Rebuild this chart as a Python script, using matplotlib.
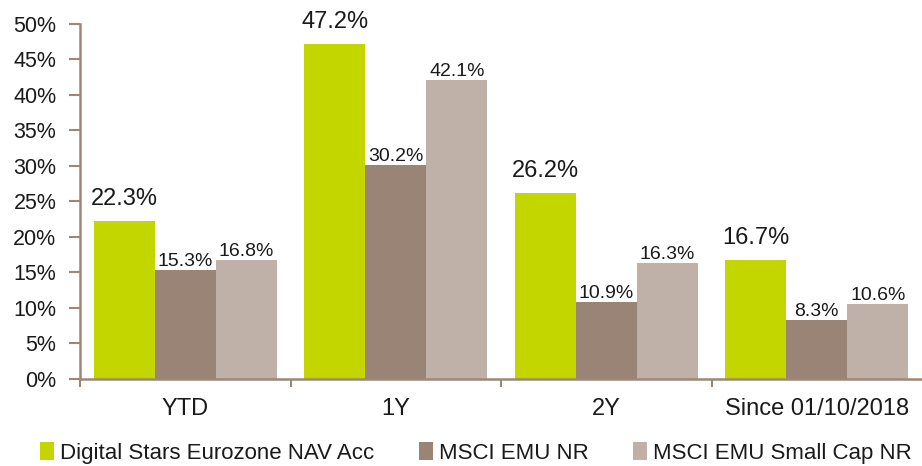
import matplotlib
matplotlib.use("Agg")
import matplotlib.pyplot as plt
import numpy as np

categories = ["YTD", "1Y", "2Y", "Since 01/10/2018"]
series_names = ["Digital Stars Eurozone NAV Acc", "MSCI EMU NR", "MSCI EMU Small Cap NR"]
fund = [22.3, 47.2, 26.2, 16.7]
msci_emu = [15.3, 30.2, 10.9, 8.3]
msci_small = [16.8, 42.1, 16.3, 10.6]
yticks = [0, 5, 10, 15, 20, 25, 30, 35, 40, 45, 50]

colors = ["#C4D600", "#998475", "#BFB0A8"]
spine_c = "#9C8878"

plt.rcParams["font.family"] = ["Liberation Sans", "DejaVu Sans"]

fig = plt.figure(figsize=(9.22, 4.66), dpi=100)
ax = fig.add_axes([0.0868, 0.1867, 0.9132, 0.7618])

x = np.arange(len(categories))
w = 0.29
data = [fund, msci_emu, msci_small]
for i, (vals, c, name) in enumerate(zip(data, colors, series_names)):
    xs = x + (i - 1) * w
    ax.bar(xs, vals, width=w, color=c, label=name, zorder=2)
    for xx, v in zip(xs, vals):
        if i == 0:
            ax.annotate(f"{v:.1f}%", (xx, v), xytext=(0, 8), textcoords="offset points",
                        ha="center", va="bottom", fontsize=17, color="#1a1a1a")
        else:
            ax.annotate(f"{v:.1f}%", (xx, v), xytext=(0, 0), textcoords="offset points",
                        ha="center", va="bottom", fontsize=14, color="#1a1a1a")

ax.set_xlim(-0.5, 3.5)
ax.set_ylim(0, 50)
ax.set_yticks(yticks)
ax.set_yticklabels([f"{t}%" for t in yticks], fontsize=15.5, color="#1a1a1a")
ax.set_xticks(x)
ax.set_xticklabels(categories, fontsize=17, color="#1a1a1a")
ax.set_xticks([-0.5, 0.5, 1.5, 2.5], minor=True)
ax.tick_params(axis="x", which="major", length=0, pad=14)
ax.tick_params(axis="x", which="minor", length=6, width=1.5, color=spine_c, direction="out")
ax.tick_params(axis="y", length=8, width=1.5, color=spine_c, direction="out", pad=9)

for s in ["top", "right"]:
    ax.spines[s].set_visible(False)
for s in ["left", "bottom"]:
    ax.spines[s].set_color(spine_c)
    ax.spines[s].set_linewidth(1.8)

leg = fig.legend(loc="center", bbox_to_anchor=(0.516, 0.028), ncol=3, frameon=False,
                 prop={"size": 16}, handlelength=0.65, handleheight=0.85,
                 handletextpad=0.25, columnspacing=2.0, borderpad=0, borderaxespad=0)
for t in leg.get_texts():
    t.set_color("#1a1a1a")

fig.savefig("out.png", dpi=100)
